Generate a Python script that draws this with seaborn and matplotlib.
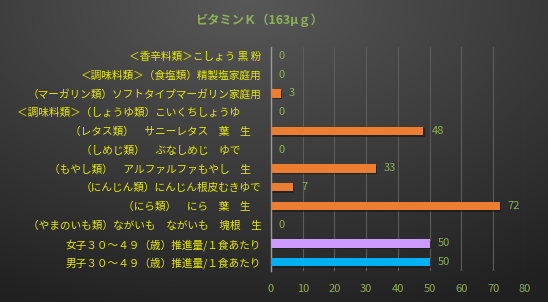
import numpy as np
import pandas as pd
import matplotlib
matplotlib.use("Agg")
import matplotlib.pyplot as plt
import seaborn as sns

title = "ビタミンＫ（163μｇ）"
labels = [
    "＜香辛料類＞こしょう 黒 粉",
    "＜調味料類＞（食塩類）精製塩家庭用",
    "（マーガリン類）ソフトタイプマーガリン家庭用",
    "＜調味料類＞（しょうゆ類）こいくちしょうゆ　　",
    "（レタス類）　サニーレタス　葉　生　",
    "（しめじ類）　ぶなしめじ　ゆで　　",
    "（もやし類）　アルファルファもやし　生　",
    "（にんじん類）にんじん根皮むきゆで",
    "（にら類）　にら　葉　生　",
    "（やまのいも類）ながいも　ながいも　塊根　生",
    "女子３０～４９（歳）推進量/１食あたり",
    "男子３０～４９（歳）推進量/１食あたり",
]
values = [0, 0, 3, 0, 48, 0, 33, 7, 72, 0, 50, 50]
bar_colors = ["#ED7D31"] * 10 + ["#CC99FF", "#00B0F0"]
xticks = [0, 10, 20, 30, 40, 50, 60, 70, 80]

sns.set_theme(style="dark")
plt.rcParams['font.family'] = ['Noto Sans CJK JP', 'DejaVu Sans']

fig = plt.figure(figsize=(5.48, 3.02), dpi=100)

# gradient background
bg = fig.add_axes([0, 0, 1, 1], zorder=-10)
yy, xx = np.mgrid[0:1:302j, 0:1:548j]
d = np.sqrt(((xx - 0.45) * 1.1) ** 2 + (yy * 1.0) ** 2)
v = np.clip(1 - d / 1.1, 0, 1)
c0 = np.array([0x20, 0x20, 0x20]) / 255
c1 = np.array([0x58, 0x58, 0x58]) / 255
img = c0[None, None, :] + (c1 - c0)[None, None, :] * v[..., None]
bg.imshow(img, aspect="auto", extent=[0, 1, 1, 0])
bg.axis("off")

ax = fig.add_axes([0.4945, 0.101, 0.4635, 0.745])
ax.set_facecolor("none")

df = pd.DataFrame({"label": labels, "value": values})
sns.barplot(data=df, x="value", y="label", hue="label", palette=bar_colors,
            legend=False, orient="h", width=0.45, ax=ax, saturation=1,
            edgecolor="none", zorder=3)

# subtle shadows
for p in ax.patches:
    if p.get_width() > 0:
        ax.add_patch(plt.Rectangle((p.get_x() + 0.4, p.get_y() + 0.08),
                                   p.get_width(), p.get_height(),
                                   color="#151515", alpha=0.6, zorder=2, lw=0))

for i, val in enumerate(values):
    ax.text(val + 2.5, i, f"{val}", va="center", ha="left",
            color="#8DB255", fontsize=8, zorder=4)

ax.set_xlim(0, 80)
ax.set_xticks(xticks)
ax.set_xticklabels([str(t) for t in xticks], color="#8DB255", fontsize=8)
ax.tick_params(axis="x", length=0, pad=9)
ax.tick_params(axis="y", length=0, pad=7, labelsize=7.7, labelcolor="#E8E800")
ax.set_xlabel("")
ax.set_ylabel("")
ax.grid(axis="x", color="#5c5c5c", lw=0.8, zorder=0)
ax.grid(axis="y", visible=False)
for s in ["top", "right", "bottom"]:
    ax.spines[s].set_visible(False)
ax.spines["left"].set_color("#9a9a9a")
ax.spines["left"].set_linewidth(1)

fig.text(0.472, 0.933, title, ha="center", va="center", color="#8DB255",
         fontsize=8.8, fontweight="bold")

fig.savefig("out.png", dpi=100)
